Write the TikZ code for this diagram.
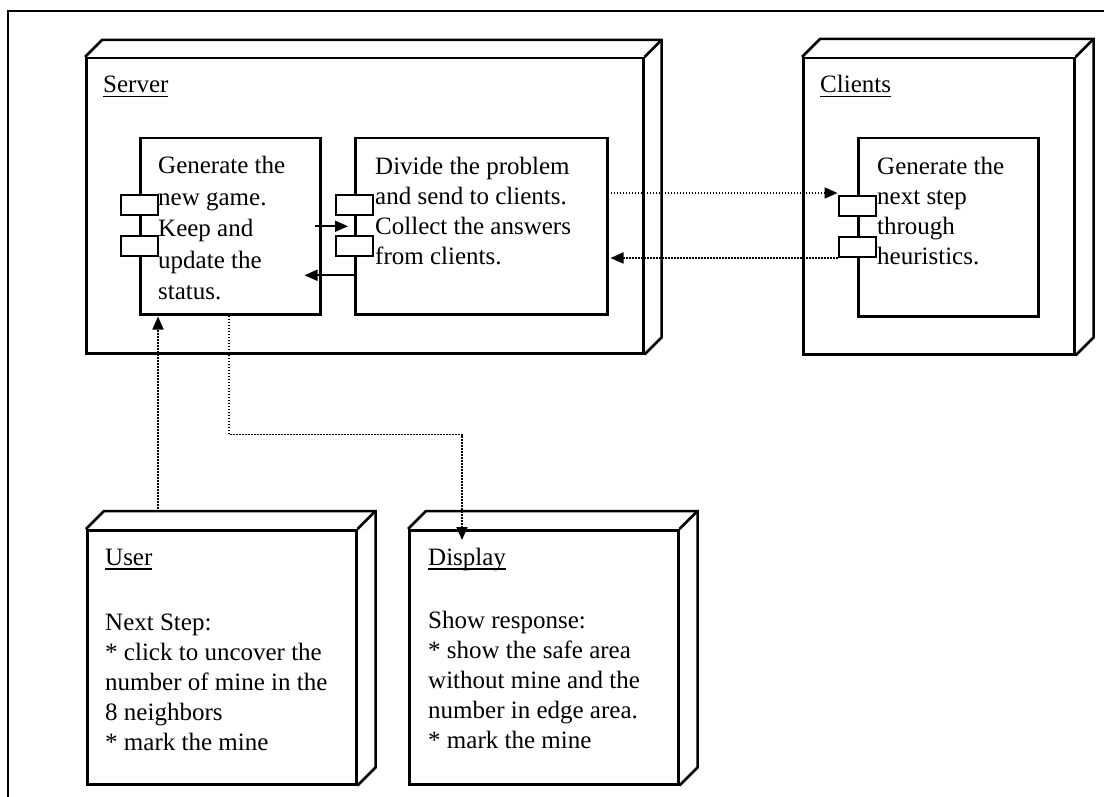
\documentclass[tikz,border=0pt]{standalone}
\usepackage{fontspec}
\setmainfont{Liberation Serif}
\usetikzlibrary{arrows.meta,calc}
\newcommand\dbox[2]{%
  \draw[face] (#1.north west) -- ++(#2,-#2) -- ($(#1.north east)+(#2,-#2)$) -- ($(#1.south east)+(#2,-#2)$) -- (#1.south east);
  \draw[face] ($(#1.north east)+(#2,-#2)$) -- (#1.north east);}
\newcommand\myul[1]{\setbox0\hbox{#1}\rlap{\rule[-4.5pt]{\wd0}{1.8pt}}\box0}
\begin{document}
\begin{tikzpicture}[x=1pt,y=-1pt,
  box/.style={draw, line width=2.5pt, rectangle, inner sep=0pt, anchor=north west, fill=white},
  face/.style={line width=2.5pt, line join=miter},
  port/.style={draw, line width=2pt, fill=white, minimum width=37pt, minimum height=20pt, inner sep=0pt},
  dotline/.style={line width=1.7pt, dash pattern=on 1.7pt off 1.3pt},
  solidline/.style={line width=1.8pt},
  tip/.style={-{Triangle[length=13pt,width=11pt]}},
  lbl/.style={anchor=base west, inner sep=0pt, font=\fontsize{25}{30}\selectfont},
  body/.style={anchor=north west, inner sep=0pt, align=left, font=\fontsize{25}{30}\selectfont},
]
\useasboundingbox (0,0) rectangle (1104,797);
\fill[white] (0,0) rectangle (1104,797);
% outer frame
\coordinate (fbl) at (8,797);
\coordinate (ftl) at (8,11);
\coordinate (ftr) at (1104,11);
\draw[line width=2.5pt] (fbl) -- (ftl) -- (ftr);

% 3D nodes
\node[box, minimum width=557, minimum height=295] (server) at (85,57) {};
\dbox{server}{17}
\node[box, minimum width=271, minimum height=296] (clients) at (802,57) {};
\dbox{clients}{18}
\node[box, minimum width=269, minimum height=254] (user) at (86,529) {};
\dbox{user}{18}
\node[box, minimum width=269, minimum height=254] (disp) at (408,529) {};
\dbox{disp}{18}

% components
\node[box, minimum width=180, minimum height=176] (gen) at (139,137) {};
\node[box, minimum width=252, minimum height=176] (div) at (354,137) {};
\node[box, minimum width=180, minimum height=178] (heur) at (857,137) {};

\node[port] (gp1) at ($(gen.north west)+(0,68)$) {};
\node[port] (gp2) at ($(gen.north west)+(0,109)$) {};
\node[port] (dp1) at ($(div.north west)+(0,68)$) {};
\node[port] (dp2) at ($(div.north west)+(0,109)$) {};
\node[port] (cp1) at ($(heur.north west)+(0,69)$) {};
\node[port] (cp2) at ($(heur.north west)+(0,110)$) {};

% labels
\node[lbl] (serverlbl) at (103,93) {\myul{Server}};
\node[lbl] (clientslbl) at (820,93) {\myul{Clients}};
\node[lbl] (userlbl) at (105,565) {\myul{User}};
\node[lbl] (displbl) at (428,565) {\myul{Display}};

% texts
\node[body, font=\fontsize{25}{31.5}\selectfont] (gentext) at (158,156) {Generate the\\new game.\\Keep and\\update the\\status.};
\node[body] (divtext) at (375,157) {Divide the problem\\and send to clients.\\Collect the answers\\from clients.};
\node[body] (heurtext) at (877,157) {Generate the\\next step\\through\\heuristics.};
\node[body] (usertext) at (105,614) {Next Step:\\* click to uncover the\\number of mine in the\\8 neighbors\\* mark the mine};
\node[body] (disptext) at (428,611) {Show response:\\* show the safe area\\without mine and the\\number in edge area.\\* mark the mine};

% connectors
\draw[solidline, tip] ($(gen.east)+(-7,0)$) -- ($(div.west)+(-6,0)$);
\draw[solidline, tip] ($(div.west)+(0,49)$) -- ($(gen.east)+(-17,49)$);
\draw[dotline, tip] (div.east |- cp1.north west) ++(2,-2) -- ($(cp1.north west)+(0,-2)$);
\draw[dotline, tip] (cp2.south west) -- ($(div.east |- cp2.south west)+(2,0)$);
\draw[dotline, tip] ($(user.north west)+(72,-20)$) -- ($(gen.south west)+(19,1)$);
\draw[dotline, tip] ($(gen.south west)+(90,0)$) -- ++(0,119) -| ($(disp.north west)+(54,11)$);
\end{tikzpicture}
\end{document}
